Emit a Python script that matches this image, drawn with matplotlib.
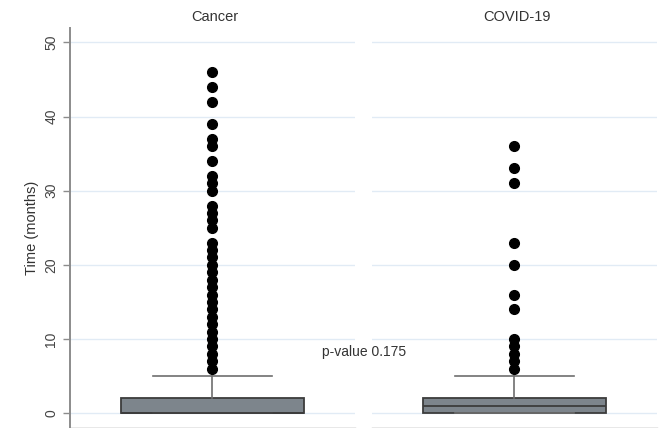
import matplotlib
matplotlib.use("Agg")
import matplotlib.pyplot as plt
import numpy as np

plt.rcParams['font.family'] = ['Liberation Sans', 'DejaVu Sans']

groups = ["Cancer", "COVID-19"]
q1 = [0, 0]
median = [0, 1]
q3 = [2, 2]
whisker_low = [0, 0]
whisker_high = [5, 5]
outliers_cancer = [6, 7, 8, 9, 10, 11, 12, 13, 14, 15, 16, 17, 18, 19, 20, 21, 22, 23,
                   25, 26, 27, 28, 30, 31, 32, 34, 36, 37, 39, 42, 44, 46]
outliers_covid = [6, 7, 8, 9, 10, 14, 16, 20, 23, 31, 33, 36]
outliers = [outliers_cancer, outliers_covid]
y_ticks = [0, 10, 20, 30, 40, 50]
y_label = "Time (months)"
p_text = "p-value 0.175"

W, H = 665, 428
fig = plt.figure(figsize=(W / 100, H / 100), dpi=100)
fig.patch.set_facecolor("white")

panel_left = [70 / W, 372 / W]
panel_w = 285 / W
ax_bottom = 0.0
ax_h = (428 - 28.3) / H

grid_color = "#e1ebf5"
axis_color = "#8c8c8c"
text_color = "#333333"

for i, g in enumerate(groups):
    ax = fig.add_axes([panel_left[i], ax_bottom, panel_w, ax_h])
    ax.set_facecolor("white")
    stats = [dict(q1=q1[i], med=median[i], q3=q3[i], whislo=whisker_low[i],
                  whishi=whisker_high[i], fliers=outliers[i], label=g)]
    ax.bxp(stats, positions=[0], widths=1.284, capwidths=0.84, patch_artist=True,
           boxprops=dict(facecolor="#7d858c", edgecolor="#3c3c3c", linewidth=1.3),
           medianprops=dict(color="#3c3c3c", linewidth=1.3),
           whiskerprops=dict(color="#6e6e6e", linewidth=1.2),
           capprops=dict(color="#6e6e6e", linewidth=1.2),
           flierprops=dict(marker="o", markerfacecolor="black", markeredgecolor="black",
                           markersize=7.0, linestyle="none"),
           zorder=3)
    ax.set_xlim(-1, 1)
    ax.set_ylim(-2.0, 51.9)
    ax.set_yticks(y_ticks)
    ax.grid(axis="y", color=grid_color, linewidth=1.0, zorder=0)
    ax.set_axisbelow(True)
    ax.set_xticks([])
    for s in ["top", "right"]:
        ax.spines[s].set_visible(False)
    ax.spines["bottom"].set_color(axis_color)
    ax.spines["bottom"].set_linewidth(1.0)
    if i == 0:
        ax.spines["left"].set_color(axis_color)
        ax.spines["left"].set_linewidth(1.4)
        ax.tick_params(axis="y", colors=axis_color, labelcolor="#444444",
                       labelsize=10, length=5, width=1.0)
        for lab in ax.get_yticklabels():
            lab.set_rotation(90)
            lab.set_va("center")
        ax.set_ylabel(y_label, fontsize=10.5, color=text_color, labelpad=4)
    else:
        ax.spines["left"].set_visible(False)
        ax.tick_params(axis="y", left=False, labelleft=False)
    fig.text(panel_left[i] + panel_w / 2 + 2 / W, 1 - 17 / H, g, ha="center", va="center",
             fontsize=10.5, color=text_color)

fig.text(322 / W, 1 - 352 / H, p_text, ha="left", va="center", fontsize=10, color=text_color)

fig.savefig("out.png", dpi=100, facecolor=fig.get_facecolor())
